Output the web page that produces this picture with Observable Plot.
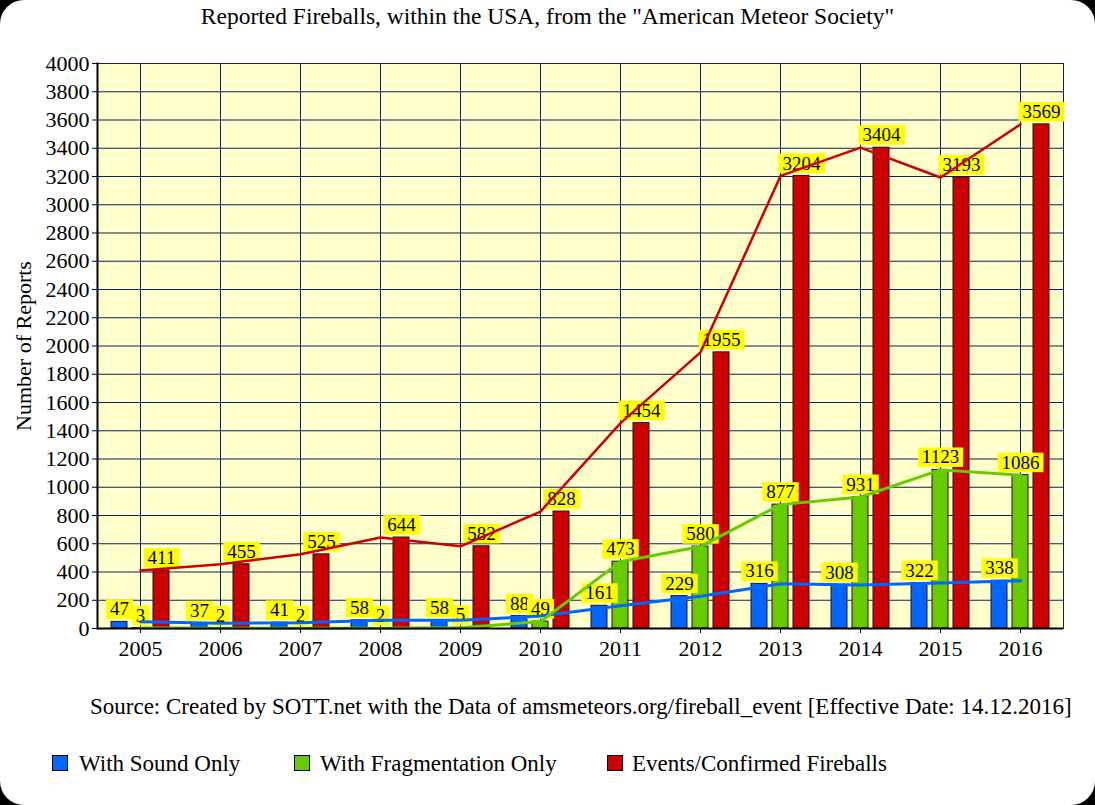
<!DOCTYPE html>
<html><head><meta charset="utf-8">
<script src="https://cdn.jsdelivr.net/npm/d3@7"></script>
<script src="https://cdn.jsdelivr.net/npm/@observablehq/plot@0.6"></script>
<style>
html,body{margin:0;padding:0;background:#000;}
#card{position:relative;width:1095px;height:805px;background:#fff;border-radius:24px;overflow:hidden;font-family:"Liberation Serif","Times New Roman",serif;color:#000;}
#chart{position:absolute;left:0;top:0;}
.t{position:absolute;white-space:nowrap;font-size:23px;line-height:1;}
.sw{position:absolute;width:14px;height:14px;border:1px solid #000;}
</style>
</head><body>
<div id="card">
  <div class="t" id="title" style="left:0;width:1095px;text-align:center;top:5px;font-size:23.5px;">Reported Fireballs, within the USA, from the "American Meteor Society"</div>
  <div id="chart"></div>
  <div class="t" id="source" style="left:90px;top:695px;">Source: Created by SOTT.net with the Data of amsmeteors.org/fireball_event [Effective Date: 14.12.2016]</div>
  <div class="sw" style="left:52px;top:755px;background:#0066ff;"></div>
  <div class="t" style="left:79px;top:752px;">With Sound Only</div>
  <div class="sw" style="left:294px;top:755px;background:#66cc00;"></div>
  <div class="t" style="left:320px;top:752px;">With Fragmentation Only</div>
  <div class="sw" style="left:607px;top:755px;background:#cc0000;"></div>
  <div class="t" style="left:632px;top:752px;">Events/Confirmed Fireballs</div>
</div>
<script>
// ---- data ----
const years = [2005, 2006, 2007, 2008, 2009, 2010, 2011, 2012, 2013, 2014, 2015, 2016];
const soundOnly = [47, 37, 41, 58, 58, 88, 161, 229, 316, 308, 322, 338];
const fragmentationOnly = [3, 2, 2, 2, 5, 49, 473, 580, 877, 931, 1123, 1086];
const confirmedFireballs = [411, 455, 525, 644, 582, 828, 1454, 1955, 3204, 3404, 3193, 3569];
const seriesNames = ["With Sound Only", "With Fragmentation Only", "Events/Confirmed Fireballs"];
const yTicks = [0,200,400,600,800,1000,1200,1400,1600,1800,2000,2200,2400,2600,2800,3000,3200,3400,3600,3800,4000];

// ---- styles ----
const colors = ["#0066ff", "#66cc00", "#cc0000"];
const offsets = [-21, 0, 21];
const seriesValues = [soundOnly, fragmentationOnly, confirmedFireballs];

const tables = seriesValues.map((vals, s) => years.map((y, i) => ({year: y, series: seriesNames[s], value: vals[i]})));

const step = 80.5, bw = 16;
const pInner = 1 - bw / step;

const marks = [
  Plot.frame({fill: "#ffffcc", stroke: null}),
  Plot.gridY(yTicks, {stroke: "#0d1f5c", strokeOpacity: 1, strokeWidth: 1}),
  Plot.gridX(years, {stroke: "#0d1f5c", strokeOpacity: 1, strokeWidth: 1}),
  Plot.frame({stroke: "#0d1f5c", strokeWidth: 1}),
];
tables.forEach((t, s) => {
  marks.push(Plot.barY(t, {x: "year", y: "value", fill: colors[s], stroke: "#1a1a1a", strokeWidth: 1, dx: offsets[s]}));
});
tables.forEach((t, s) => {
  marks.push(Plot.text(t, {x: "year", y: "value", text: d => String(d.value), dx: offsets[s], dy: -12.5, fontSize: 19, fill: "#000", fontFamily: "Liberation Serif"}));
});
tables.forEach((t, s) => {
  marks.push(Plot.line(t, {x: "year", y: "value", stroke: colors[s], strokeWidth: s === 2 ? 2.5 : 3}));
});
marks.push(Plot.ruleY([0], {stroke: "#000", strokeWidth: 2}));
marks.push(Plot.frame({anchor: "left", stroke: "#000", strokeWidth: 2}));
marks.push(Plot.axisY({ticks: yTicks, tickSize: 5, tickPadding: 3, tickFormat: d => String(d), fontSize: 22, label: "Number of Reports", labelAnchor: "center", labelArrow: "none", labelOffset: 82}));
marks.push(Plot.axisX({tickSize: 5, tickPadding: 7, tickFormat: d => String(d), fontSize: 22, label: null}));

const chart = Plot.plot({
  width: 1095,
  height: 680,
  marginTop: 63,
  marginBottom: 52,
  marginLeft: 97,
  marginRight: 32,
  style: {fontFamily: "Liberation Serif", fontSize: "23px", color: "#000", background: "transparent", overflow: "visible"},
  x: {type: "band", domain: years, paddingInner: pInner, paddingOuter: pInner / 2},
  y: {domain: [0, 4000]},
  marks
});
document.getElementById("chart").appendChild(chart);

// yellow boxes behind value labels
const svgNS = "http://www.w3.org/2000/svg";
chart.querySelectorAll('g[aria-label="text"] text').forEach(t => {
  const b = t.getBBox();
  const r = document.createElementNS(svgNS, "rect");
  r.setAttribute("x", b.x - 4);
  r.setAttribute("y", b.y + 1);
  r.setAttribute("width", b.width + 8);
  r.setAttribute("height", b.height - 1.5);
  r.setAttribute("fill", "#ffff00");
  if (t.getAttribute("transform")) r.setAttribute("transform", t.getAttribute("transform"));
  t.parentNode.insertBefore(r, t);
});
</script>
</body></html>
